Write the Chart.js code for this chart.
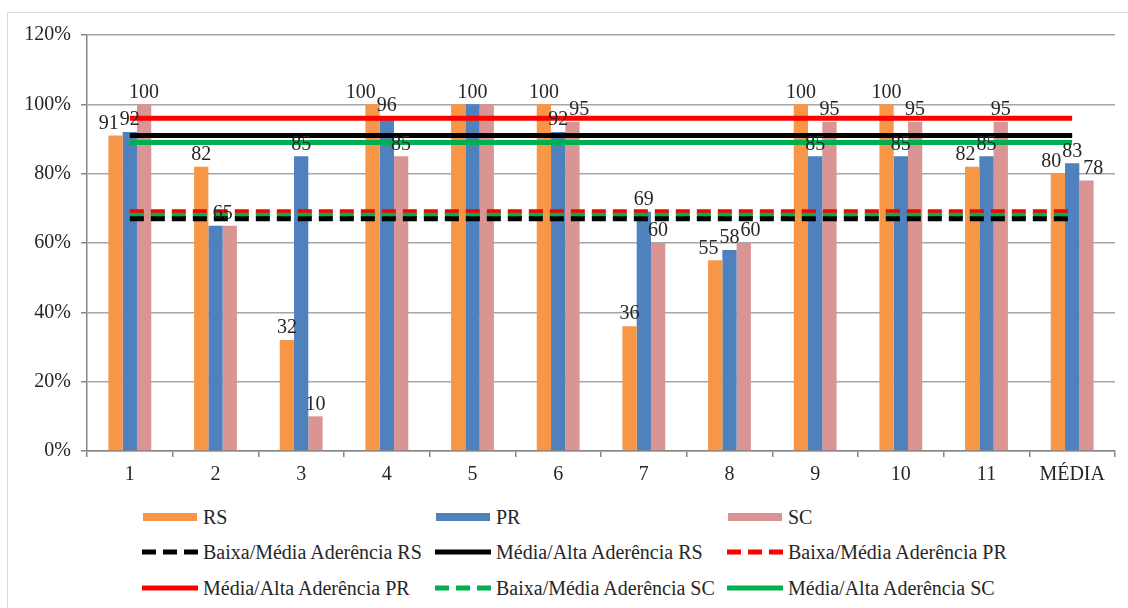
<!DOCTYPE html>
<html lang="pt">
<head>
<meta charset="UTF-8">
<title>Aderência RS / PR / SC</title>
<style>
    body { margin: 0; width: 1128px; height: 608px; overflow: hidden; background: #fff; position: relative; font-family: "Liberation Serif", "DejaVu Serif", "Times New Roman", serif; }
    #frame { position: absolute; left: 7px; top: 12px; width: 1200px; height: 700px; border: 1px solid #d9d9d9; }
    #graph-container { position: absolute; left: 0; top: 0; width: 1128px; height: 500px; }
    .item { position: absolute; height: 24px; display: flex; align-items: center; font-size: 20px; color: #262626; white-space: nowrap; }
    .item svg { margin-right: 5px; }
</style>
</head>
<body>
<div id="frame"></div>
<div id="graph-container"><canvas id="Chart"></canvas></div>
<div id="legend"></div>

<script src="https://cdn.jsdelivr.net/npm/chart.js@4.4.1/dist/chart.umd.min.js"></script>
<script>
    // categorias e valores (%)
    const categories = ["1", "2", "3", "4", "5", "6", "7", "8", "9", "10", "11", "MÉDIA"];
    const rsValues = [91, 82, 32, 100, 100, 100, 36, 55, 100, 100, 82, 80];
    const prValues = [92, 65, 85, 96, 100, 92, 69, 58, 85, 85, 85, 83];
    const scValues = [100, 65, 10, 85, 100, 95, 60, 60, 95, 95, 95, 78];

    // limites de aderência
    const baixaMediaRS = 67;
    const mediaAltaRS = 91;
    const baixaMediaPR = 69;
    const mediaAltaPR = 96;
    const baixaMediaSC = 68;
    const mediaAltaSC = 89;

    const yMax = 120;
    const yStep = 20;

    const FONT = "'Liberation Serif', 'DejaVu Serif', 'Times New Roman', serif";
    const dash = [14, 7];

    const bar = (label, data, color) => ({
        type: "bar", label: label, data: data, backgroundColor: color,
        order: 10, categoryPercentage: 0.5, barPercentage: 1.0
    });
    const line = (label, value, color, dashed, order) => ({
        type: "line", label: label, data: categories.map(() => value),
        borderColor: color, backgroundColor: color, borderWidth: 5,
        borderDash: dashed ? dash : [], pointRadius: 0, fill: false, order: order
    });

    const datasets = [
        bar("RS", rsValues, "#F79646"),
        bar("PR", prValues, "#4F81BD"),
        bar("SC", scValues, "#D99594"),
        line("Baixa/Média Aderência RS", baixaMediaRS, "#000000", true, 1),
        line("Média/Alta Aderência RS", mediaAltaRS, "#000000", false, 2),
        line("Baixa/Média Aderência PR", baixaMediaPR, "#FF0000", true, 3),
        line("Média/Alta Aderência PR", mediaAltaPR, "#FF0000", false, 2),
        line("Baixa/Média Aderência SC", baixaMediaSC, "#00B050", true, 2),
        line("Média/Alta Aderência SC", mediaAltaSC, "#00B050", false, 2)
    ];

    // rótulos de valor sobre as barras (estilo Excel)
    const valueLabels = {
        id: "valueLabels",
        afterDatasetsDraw(chart) {
            const ctx = chart.ctx;
            ctx.save();
            ctx.font = "20px " + FONT;
            ctx.fillStyle = "#262626";
            ctx.textAlign = "center";
            ctx.textBaseline = "middle";
            const h = 22;
            for (let i = 0; i < categories.length; i++) {
                const bars = [0, 1, 2].map(d => ({
                    v: chart.data.datasets[d].data[i],
                    el: chart.getDatasetMeta(d).data[i]
                }));
                // junta barras vizinhas com o mesmo valor
                const groups = [];
                bars.forEach((b, k) => {
                    const last = groups[groups.length - 1];
                    if (last && last.v === b.v) {
                        last.members.push(k);
                        last.x = (last.x * (last.members.length - 1) + b.el.x) / last.members.length;
                    } else {
                        groups.push({ v: b.v, x: b.el.x, y: b.el.y, members: [k] });
                    }
                });
                groups.forEach(g => {
                    g.text = String(g.v);
                    g.w = ctx.measureText(g.text).width;
                    g.cy = g.y - 12;
                });
                const overlap = (a, b) =>
                    Math.abs(a.cy - b.cy) < h && (Math.min(a.x + a.w / 2, b.x + b.w / 2) - Math.max(a.x - a.w / 2, b.x - b.w / 2));
                if (groups.length === 3) {
                    const [l, m, r] = groups;
                    let o = overlap(l, m);
                    if (o > 0) l.x -= o + 1;
                    o = overlap(m, r);
                    if (o > 0) r.x += o + 1;
                } else if (groups.length === 2) {
                    const o = overlap(groups[0], groups[1]);
                    if (o > 0) groups[0].x -= o + 1;
                }
                groups.forEach(g => ctx.fillText(g.text, g.x, g.cy));
            }
            ctx.restore();
        }
    };

    const myChart = new Chart(document.getElementById("Chart").getContext("2d"), {
        data: { labels: categories, datasets: datasets },
        options: {
            responsive: true,
            maintainAspectRatio: false,
            animation: false,
            layout: { padding: { left: 0, top: 35, right: 13, bottom: 0 } },
            plugins: { legend: { display: false }, tooltip: { enabled: false } },
            scales: {
                x: {
                    afterFit: (s) => { s.height = 49; },
                    grid: { display: true, drawOnChartArea: false, tickLength: 6, tickColor: "#868686", lineWidth: 1.5 },
                    border: { color: "#868686", width: 1.5 },
                    ticks: { autoSkip: false, maxRotation: 0, padding: 6, color: "#262626", font: { family: FONT, size: 20 } }
                },
                y: {
                    min: 0, max: yMax,
                    afterFit: (s) => { s.width = 87; },
                    grid: { color: "#a6a6a6", lineWidth: 1.5, tickLength: 6, tickColor: "#868686" },
                    border: { color: "#868686", width: 1.5 },
                    ticks: { stepSize: yStep, padding: 10, color: "#262626", font: { family: FONT, size: 20 }, callback: (v) => v + "%" }
                }
            }
        },
        plugins: [valueLabels]
    });

    // legenda em três colunas
    const legendBox = document.getElementById("legend");
    const colX = [142, 435, 727];
    const rowY = [517, 552, 588];
    datasets.forEach((ds, i) => {
        const item = document.createElement("div");
        item.className = "item";
        item.style.left = colX[i % 3] + "px";
        item.style.top = (rowY[Math.floor(i / 3)] - 12) + "px";
        let sym;
        if (ds.type === "bar") {
            sym = '<svg width="56" height="10"><rect x="1" y="1" width="54" height="8" fill="' + ds.backgroundColor + '"/></svg>';
        } else {
            sym = '<svg width="56" height="10"><line x1="0" y1="5" x2="56" y2="5" stroke="' + ds.borderColor +
                '" stroke-width="5" stroke-dasharray="' + (ds.borderDash.length ? ds.borderDash.join(",") : "none") + '"/></svg>';
        }
        item.innerHTML = sym + "<span>" + ds.label + "</span>";
        legendBox.appendChild(item);
    });
</script>
</body>
</html>
